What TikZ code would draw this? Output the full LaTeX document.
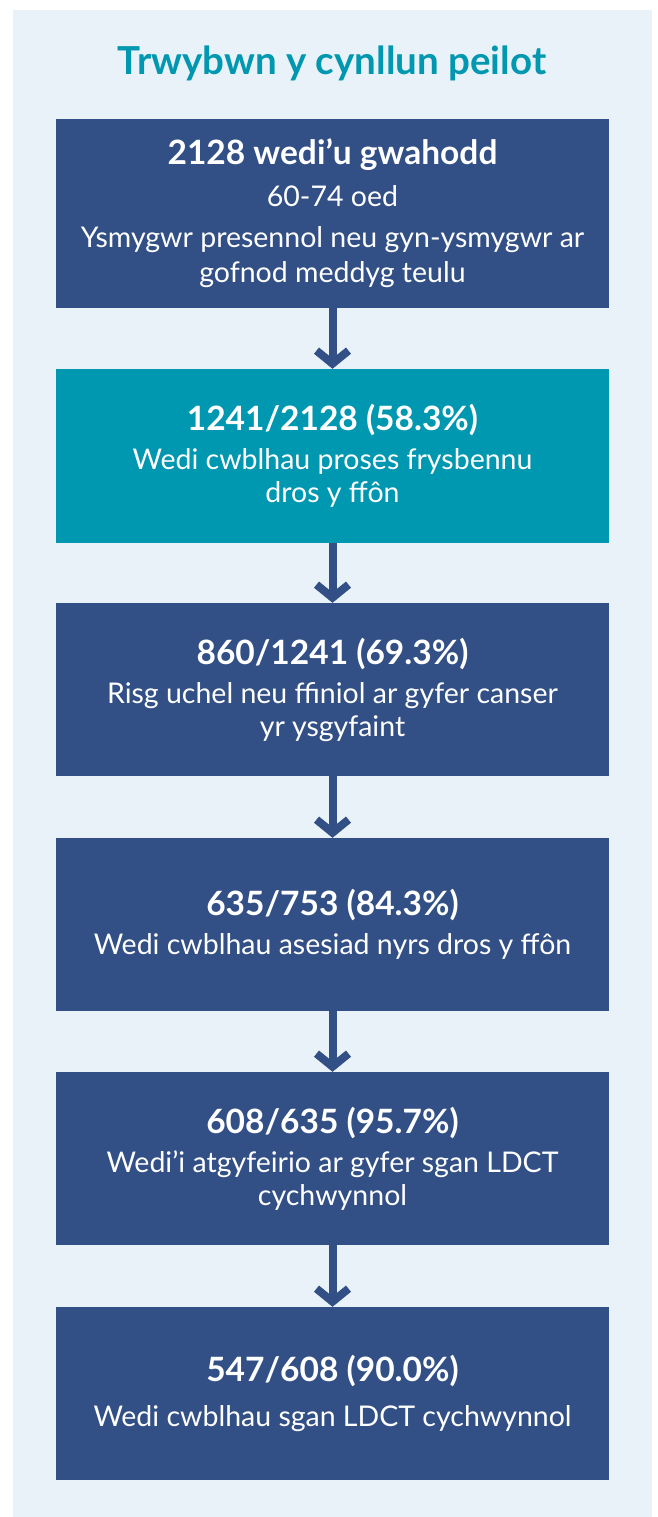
\documentclass[tikz,border=0pt]{standalone}
\usepackage{fontspec}
\setmainfont{Lato}
\usepackage{tikz}
\usetikzlibrary{arrows.meta}
\definecolor{panelbg}{HTML}{EAF2F9}
\definecolor{stepblue}{HTML}{325086}
\definecolor{stepteal}{HTML}{0097B0}
\tikzset{
  stepbox/.style={fill=stepblue, text=white, minimum width=553pt, align=center, font=\fontsize{28.5}{33}\selectfont},
  flowarrow/.style={-{Straight Barb[length=13pt, width=32pt]}, stepblue, line width=8pt},
}

\begin{document}
\begin{tikzpicture}[x=1pt, y=-1pt]
    \useasboundingbox (0,0) rectangle (657,1517);
    \fill[panelbg] (13,10) rectangle (652,1517);

    \node[text=stepteal, font=\fontsize{38.5}{44}\selectfont\bfseries] (title) at (332,63) {Trwybwn y cynllun peilot};

    \node[stepbox, minimum height=189pt] (invited) at (332.5,213.5)
      {\textbf{\fontsize{33.5}{36}\selectfont 2128 wedi’u gwahodd}\\[9pt]
       60-74 oed\\[8pt]
       Ysmygwr presennol neu gyn-ysmygwr ar\\[2pt]
       gofnod meddyg teulu};
    \node[stepbox, fill=stepteal, minimum height=174pt] (triage) at (332.5,456)
      {\textbf{\fontsize{33.5}{36}\selectfont 1241/2128 (58.3\%)}\\[6pt]
       Wedi cwblhau proses frysbennu\\
       dros y ffôn};
    \node[stepbox, minimum height=173pt] (risk) at (332.5,689.5)
      {\textbf{\fontsize{33.5}{36}\selectfont 860/1241 (69.3\%)}\\[6pt]
       Risg uchel neu ffiniol ar gyfer canser\\
       yr ysgyfaint};
    \node[stepbox, minimum height=173pt] (nurse) at (332.5,924.5)
      {\textbf{\fontsize{33.5}{36}\selectfont 635/753 (84.3\%)}\\[6pt]
       Wedi cwblhau asesiad nyrs dros y ffôn};
    \node[stepbox, minimum height=173pt] (referred) at (332.5,1158.5)
      {\textbf{\fontsize{33.5}{36}\selectfont 608/635 (95.7\%)}\\[6pt]
       Wedi’i atgyfeirio ar gyfer sgan LDCT\\
       cychwynnol};
    \node[stepbox, minimum height=173pt] (scanned) at (332.5,1393.5)
      {\textbf{\fontsize{33.5}{36}\selectfont 547/608 (90.0\%)}\\[12pt]
       Wedi cwblhau sgan LDCT cychwynnol};

    \draw[flowarrow] (invited) -- (triage);
    \draw[flowarrow] (triage) -- (risk);
    \draw[flowarrow] (risk) -- (nurse);
    \draw[flowarrow] (nurse) -- (referred);
    \draw[flowarrow] (referred) -- (scanned);
\end{tikzpicture}
\end{document}
